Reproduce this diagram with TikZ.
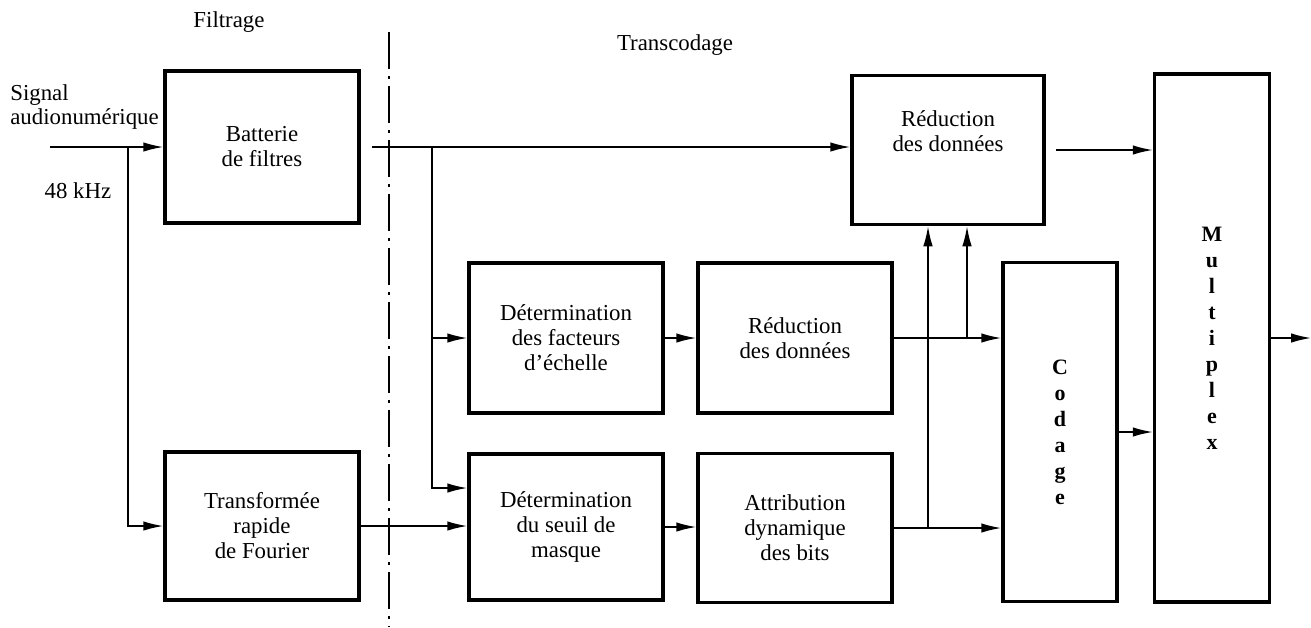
\documentclass[tikz,border=0pt]{standalone}
\usepackage{fontspec}
\setmainfont{Liberation Serif}
\usetikzlibrary{arrows.meta}

\begin{document}
\begin{tikzpicture}[x=0.02cm, y=-0.02cm,
	blk/.style={draw, line width=2pt, inner sep=0pt, align=center, font=\fontsize{13}{14.2}\selectfont},
	vtxt/.style={font=\bfseries\fontsize{12.5}{14.8}\selectfont},
	wire/.style={line width=0.9pt},
	arr/.style={wire, -{Latex[length=0.4cm,width=0.19cm]}},
	lbl/.style={font=\fontsize{13}{14.2}\selectfont, inner sep=0pt}]
	\useasboundingbox (0,0) rectangle (1311,627);

	%blocks
	\node[blk, minimum width=3.88cm, minimum height=3.04cm] (batt) at (262,147) {Batterie\\de filtres};
	\node[blk, minimum width=3.88cm, minimum height=2.96cm] (fft) at (262,526) {Transformée\\rapide\\de Fourier};
	\node[blk, minimum width=3.88cm, minimum height=3.0cm] (fact) at (566,338) {Détermination\\des facteurs\\d'échelle};
	\node[blk, minimum width=3.88cm, minimum height=2.92cm] (seuil) at (566,527) {Détermination\\du seuil de\\masque};
	\node[blk, minimum width=3.88cm, minimum height=3.0cm] (reda) at (795,338) {Réduction\\des données};
	\node[blk, minimum width=3.88cm, minimum height=2.98cm] (attr) at (795,528) {Attribution\\dynamique\\des bits};
	\node[blk, minimum width=3.84cm, minimum height=2.98cm] (redb) at (948,150) {};
	\node[blk, vtxt, minimum width=2.28cm, minimum height=6.78cm] (cod) at (1060,432) {C\\o\\d\\a\\g\\e};
	\node[blk, vtxt, minimum width=2.3cm, minimum height=10.56cm] (mux) at (1212,338) {M\\u\\l\\t\\i\\p\\l\\e\\x};

	%labels
	\node[lbl] (filt) at (229,22) {Filtrage};
	\node[lbl] (trans) at (675,45) {Transcodage};
	\node[lbl, anchor=west, align=left] (sig) at (10,107) {Signal\\audionumérique};
	\node[lbl] (freq) at (78,191) {48 kHz};
	\node[lbl, align=center] (redbtxt) at (948,131) {Réduction\\des données};

	%separation
	\draw[line width=1.1pt, dash pattern=on 0.74cm off 0.14cm on 0.06cm off 0.14cm] (389,32) -- (389,627);

	%lines
	\coordinate (src) at (50,147);
	\coordinate (tapa) at (128,147);
	\coordinate (tapb) at (432,147);
	\coordinate (tapc) at (928,528);
	\coordinate (tapd) at (967,338);
	\coordinate (out) at (1311,338);
	\draw[wire] (src) -- (tapa);
	\draw[arr] (tapa) -- (batt.west);
	\draw[arr] (tapa) |- (fft.west);
	\draw[arr, shorten <=0.22cm] (batt.east) -- (batt.east -| redb.west);
	\draw[arr] (tapb) |- (fact.west);
	\draw[arr] (tapb) |- ([yshift=0.78cm]seuil.west);
	\draw[arr] (fft.east) -- (fft.east -| seuil.west);
	\draw[arr] (fact.east) -- (reda.west);
	\draw[arr] (seuil.east) -- (seuil.east -| attr.west);
	\draw[arr] (reda.east) -- (cod.west |- reda.east);
	\draw[arr] (attr.east) -- (cod.west |- attr.east);
	\draw[arr] (tapd) -- (tapd |- redb.south);
	\draw[arr] (tapc) -- (tapc |- redb.south);
	\draw[arr, shorten <=0.2cm] (redb.east) -- (redb.east -| mux.west);
	\draw[arr] (cod.east) -- (cod.east -| mux.west);
	\draw[arr] (mux.east) -- (out);
\end{tikzpicture}
\end{document}
